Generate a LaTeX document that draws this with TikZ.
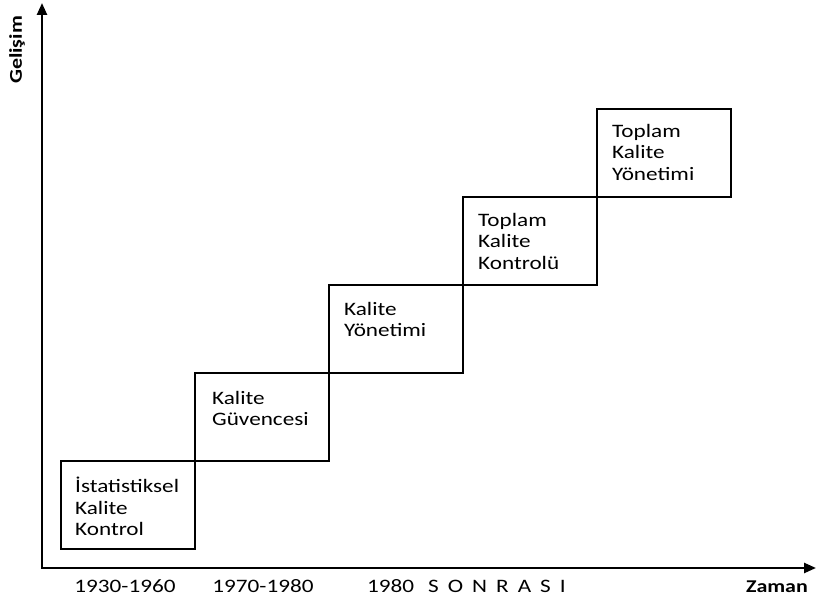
\documentclass[tikz,border=0pt]{standalone}
\usepackage{fontspec}
\setmainfont{Carlito}[FakeStretch=1.22]
\usetikzlibrary{positioning,arrows.meta}

\begin{document}
\begin{tikzpicture}[x=1pt,y=1pt]
	\tikzset{stage box/.style={draw=black, line width=1.3pt, minimum width=134pt, minimum height=88pt, inner sep=0pt, outer sep=0pt},
		stage text/.style={align=left, inner sep=0pt, font=\fontsize{19}{21.5}\selectfont},
		year/.style={anchor=base, inner sep=0pt, font=\fontsize{19}{21.5}\selectfont},
		axis/.style={line width=2.4pt, {Triangle[length=12pt,width=10pt]}-{Triangle[length=12pt,width=10pt]}}}
	\useasboundingbox (0,0) rectangle (816,601);
	% axes
	\coordinate (o) at (42,33);
	\coordinate (ytop) at (42,598);
	\coordinate (xend) at (816,33);
	\draw[axis] (ytop) -- (o) -- (xend);
	\node[rotate=90, font=\fontsize{18}{20}\selectfont\bfseries] (gel) at (17,551) {Gelişim};
	\node[year, anchor=base east, font=\fontsize{18}{20}\selectfont\bfseries] (zaman) at (808,8) {Zaman};
	% stairs
	\node[stage box, anchor=south west] (b1) at (61,52) {};
	\node[stage box, above right=0pt of b1.north east] (b2) {};
	\node[stage box, above right=0pt of b2.north east] (b3) {};
	\node[stage box, above right=0pt of b3.north east] (b4) {};
	\node[stage box, above right=0pt of b4.north east] (b5) {};
	\node[stage text, below right=16pt and 14pt of b1.north west] (t1) {İstatistiksel\\Kalite\\Kontrol};
	\node[stage text, below right=18pt and 17pt of b2.north west] (t2) {Kalite\\Güvencesi};
	\node[stage text, below right=17pt and 15pt of b3.north west] (t3) {Kalite\\Yönetimi};
	\node[stage text, below right=16pt and 15pt of b4.north west] (t4) {Toplam\\Kalite\\Kontrolü};
	\node[stage text, below right=15pt and 15pt of b5.north west] (t5) {Toplam\\Kalite\\Yönetimi};
	% periods
	\node[year] (y1) at (125,8) {1930-1960};
	\node[year] (y2) at (263,8) {1970-1980};
	\node[year, anchor=base west] (y3) at (367,8) {1980\hspace{14pt}S\hspace{9pt}O\hspace{9pt}N\hspace{9pt}R\hspace{9pt}A\hspace{9pt}S\hspace{9pt}I};
\end{tikzpicture}
\end{document}
